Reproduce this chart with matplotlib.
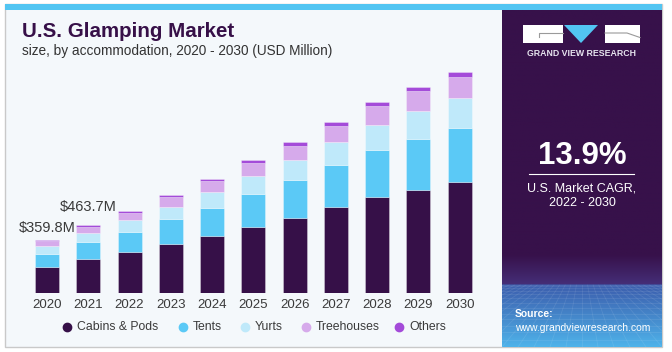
import numpy as np
import matplotlib
matplotlib.use("Agg")
import matplotlib.pyplot as plt
from matplotlib.patches import Rectangle, Polygon
from matplotlib.lines import Line2D

plt.rcParams['font.family'] = ['Liberation Sans', 'DejaVu Sans']

years = ["2020", "2021", "2022", "2023", "2024", "2025", "2026", "2027", "2028", "2029", "2030"]
cabins = [178.0, 230.5, 279.6, 331.7, 388.0, 451.6, 512.5, 582.2, 649.9, 702.0, 751.5]
tents = [91.0, 114.0, 137.4, 169.3, 191.6, 221.4, 252.5, 286.4, 320.2, 345.3, 370.3]
yurts = [50.0, 62.7, 76.5, 86.0, 103.6, 119.8, 140.1, 153.7, 171.3, 187.5, 198.4]
treehouses = [32.0, 45.0, 52.1, 63.0, 74.5, 90.0, 94.8, 110.4, 123.9, 133.4, 142.2]
others = [8.8, 11.5, 13.5, 15.6, 15.6, 18.3, 25.0, 27.1, 29.1, 31.8, 35.9]
series_names = ["Cabins & Pods", "Tents", "Yurts", "Treehouses", "Others"]
annot_labels = ["$359.8M", "$463.7M"]
cagr_value = "13.9%"
cagr_text = "U.S. Market CAGR,\n2022 - 2030"

colors = ["#361048", "#5bc9f6", "#bfe9fa", "#d6aaeb", "#a44bd9"]
W, H = 672, 352
fig = plt.figure(figsize=(W / 100, H / 100), dpi=100)
fig.patch.set_facecolor("white")

def fx(x):
    return x / W

def fy(y):
    return 1 - y / H

# frame
fig.add_artist(Rectangle((fx(5), fy(347)), fx(662) - fx(5), fy(4) - fy(347),
                         transform=fig.transFigure, facecolor="#f4f8fb",
                         edgecolor="#c9c9c9", linewidth=1.0, zorder=0))
fig.add_artist(Rectangle((fx(5), fy(9.5)), fx(662) - fx(5), fy(4) - fy(9.5),
                         transform=fig.transFigure, facecolor="#52c5f2",
                         edgecolor="none", zorder=1))

# right panel with gradient
pax = fig.add_axes([fx(502), fy(347), fx(662) - fx(502), fy(9.5) - fy(347)])
pax.set_xlim(0, 1)
pax.set_ylim(347, 9.5)
pax.axis("off")
ny = 400
ys = np.linspace(9.5, 347, ny)
def lerp(c1, c2, t):
    return c1 + (c2 - c1) * t
c_top = np.array([0x37, 0x11, 0x4a]) / 255
c_mid = np.array([0x45, 0x2f, 0x78]) / 255
c_blue = np.array([0x3c, 0x5f, 0xae]) / 255
c_bot = np.array([0x4f, 0xb3, 0xea]) / 255
img = np.zeros((ny, 1, 3))
for i, yv in enumerate(ys):
    if yv < 255:
        c = c_top
    elif yv < 285:
        c = lerp(c_top, c_mid, (yv - 255) / 30)
    else:
        c = lerp(c_blue, c_bot, ((yv - 285) / 62) ** 1.1)
    img[i, 0] = c
pax.imshow(img, extent=[0, 1, 347, 9.5], aspect="auto", zorder=0)
# perspective mesh
for k in range(14):
    yv = 285 + 62 * (k / 13) ** 1.6
    pax.plot([0, 1], [yv, yv], color="white", alpha=0.09, lw=0.6, zorder=1)
for k in range(-10, 21):
    x0 = k / 10
    pax.plot([0.5 + (x0 - 0.5) * 0.35, x0], [285, 347], color="white", alpha=0.09, lw=0.6, zorder=1)

# logo
fig.add_artist(Rectangle((fx(523), fy(43)), fx(563) - fx(523), fy(25) - fy(43),
                         transform=fig.transFigure, facecolor="white", edgecolor="none", zorder=3))
fig.add_artist(Rectangle((fx(605), fy(43)), fx(640) - fx(605), fy(25) - fy(43),
                         transform=fig.transFigure, facecolor="white", edgecolor="none", zorder=3))
fig.add_artist(Polygon([(fx(564), fy(25)), (fx(598), fy(25)), (fx(581), fy(43))],
                       closed=True, transform=fig.transFigure, facecolor="#52c5f2",
                       edgecolor="none", zorder=3))
fig.add_artist(Line2D([fx(539), fx(539), fx(563)], [fy(37), fy(33), fy(33)],
                      transform=fig.transFigure, color="#9a9a9a", lw=0.8, zorder=4))
fig.add_artist(Line2D([fx(605), fx(627), fx(640)], [fy(33), fy(33), fy(37.5)],
                      transform=fig.transFigure, color="#9a9a9a", lw=0.8, zorder=4))
fig.text(fx(581.5), fy(53), "GRAND VIEW RESEARCH", color="#e6e4ee", fontsize=6.3,
         fontweight="bold", ha="center", va="center", zorder=4)

fig.text(fx(582.5), fy(156), cagr_value, color="white", fontsize=22.5, fontweight="bold",
         ha="center", va="center", zorder=4)
fig.add_artist(Line2D([fx(529), fx(634)], [fy(174), fy(174)], transform=fig.transFigure,
                      color="white", lw=0.8, zorder=4))
fig.text(fx(582), fy(196), cagr_text, color="white", fontsize=9, ha="center",
         va="center", linespacing=1.3, zorder=4)
fig.text(fx(515), fy(314), "Source:", color="white", fontsize=7.5, fontweight="bold",
         ha="left", va="center", zorder=4)
fig.text(fx(515), fy(328), "www.grandviewresearch.com", color="white", fontsize=7.5,
         ha="left", va="center", zorder=4)

# titles
fig.text(fx(22), fy(37.3), "U.S. Glamping Market", color="#371048", fontsize=14.8,
         fontweight="heavy", ha="left", va="baseline")
fig.text(fx(22), fy(55), "size, by accommodation, 2020 - 2030 (USD Million)", color="#333333",
         fontsize=9.8, ha="left", va="baseline")

# chart axes
spacing = (459.7 - 47) / 10
ax_l, ax_r = 10, 495
ax_b, ax_t = 293.3, 60
ax = fig.add_axes([fx(ax_l), fy(ax_b), fx(ax_r) - fx(ax_l), fy(ax_t) - fy(ax_b)])
ax.set_facecolor("none")
ax.set_xlim(-(47 - ax_l) / spacing, 10 + (ax_r - 459.7) / spacing)
m_per_px = 6.77
ax.set_ylim(0, (ax_b - ax_t) * m_per_px)

x = np.arange(len(years))
bw = 24 / spacing
bottom = np.zeros(len(years))
for vals, c, name in zip([cabins, tents, yurts, treehouses, others], colors, series_names):
    ax.bar(x, vals, bw, bottom=bottom, color=c, edgecolor=(1, 1, 1, 0.35), linewidth=0.6,
           label=name, zorder=2)
    bottom += np.array(vals)

ax.set_xticks(x)
ax.set_xticklabels(years)
ax.tick_params(axis="x", length=0, pad=4, labelsize=9.5, labelcolor="#3a3a3a")
ax.set_yticks([])
for s in ax.spines.values():
    s.set_visible(False)

offsets = [4, 7.5]
for i, lab in enumerate(annot_labels):
    ax.annotate(lab, (x[i], bottom[i]), xytext=(0, offsets[i]), textcoords="offset points",
                ha="center", va="bottom", fontsize=10.5, color="#3a3a3a")

# legend
mx = [67, 183, 245, 306, 399]
for m, c, name in zip(mx, colors, series_names):
    fig.add_artist(Line2D([fx(m)], [fy(327)], transform=fig.transFigure, marker="o",
                          markersize=6, color=c, linestyle="none", zorder=4))
    fig.text(fx(m + 10), fy(327), name, color="#3a3a3a", fontsize=8.8, ha="left",
             va="center")

fig.savefig("out.png", dpi=100, facecolor="white")
